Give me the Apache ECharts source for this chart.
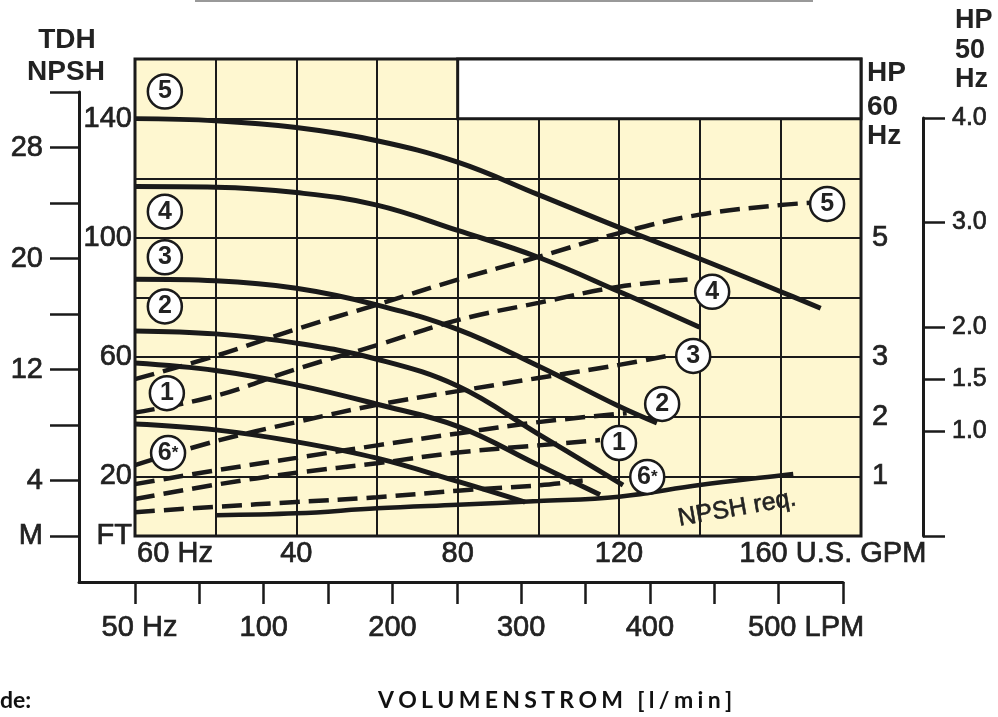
<!DOCTYPE html>
<html>
<head>
<meta charset="utf-8">
<script src="https://cdn.jsdelivr.net/npm/echarts@6/dist/echarts.min.js"></script>
<style>
  html, body { margin: 0; padding: 0; background: #fff; }
  #main { width: 998px; height: 717px; }
</style>
</head>
<body>
<div id="main"></div>
<script>
// flow in U.S. GPM, head in FT (TDH / NPSH)
var head5Flow = [0, 20, 40, 60, 80, 100, 120, 140, 160, 170];
var head5Ft   = [140, 139.3, 137, 132.6, 125.4, 114.5, 103.5, 93, 82, 76.4];
var head4Flow = [0, 20, 40, 60, 80, 100, 120, 140];
var head4Ft   = [117.2, 117, 115.2, 111, 102.5, 93.5, 82, 70];
var head3Flow = [0, 20, 40, 60, 80, 100, 120, 129.4];
var head3Ft   = [86.1, 85.6, 83.1, 77.5, 69.3, 57, 43.5, 37.9];
var head2Flow = [0, 20, 40, 60, 80, 100, 121];
var head2Ft   = [68.8, 67.8, 64.7, 59.3, 50.3, 34.2, 17.1];
var head1Flow = [0, 20, 40, 60, 80, 100, 115.3];
var head1Ft   = [58, 55.5, 50.7, 44.2, 36.8, 23.8, 13.8];
var head6Flow = [0, 20, 40, 60, 80, 96.7];
var head6Ft   = [37.6, 35.6, 31.6, 26.1, 18.3, 11.4];
var npshFlow  = [20, 40, 60, 80, 100, 120, 140, 160, 163.2];
var npshFt    = [7, 7.6, 9.3, 10.5, 11.7, 13.2, 17.1, 20.3, 20.8];

// power curves, HP at 60 Hz
var pow5Flow = [0, 20, 40, 60, 80, 100, 120, 140, 160, 168];
var pow5Hp   = [2.63, 3.02, 3.47, 3.88, 4.30, 4.68, 5.08, 5.39, 5.55, 5.59];
var pow4Flow = [0, 20, 40, 60, 80, 100, 120, 137];
var pow4Hp   = [2.07, 2.35, 2.80, 3.20, 3.62, 3.91, 4.18, 4.30];
var pow3Flow = [0, 20, 40, 60, 80, 100, 120, 133.4];
var pow3Hp   = [1.19, 1.59, 1.91, 2.20, 2.43, 2.65, 2.87, 3.04];
var pow2Flow = [0, 20, 40, 60, 80, 100, 121.9];
var pow2Hp   = [0.87, 1.10, 1.31, 1.52, 1.72, 1.91, 2.06];
var pow1Flow = [0, 20, 40, 60, 80, 100, 115.3];
var pow1Hp   = [0.62, 0.86, 1.06, 1.22, 1.40, 1.52, 1.61];
var pow6Flow = [0, 20, 40, 60, 80, 100, 111];
var pow6Hp   = [0.40, 0.49, 0.57, 0.65, 0.76, 0.85, 0.93];

// curve number tags (GPM, FT)
var tagFlow = [7.4, 7.4, 7.4, 7.4, 7.9, 8.2, 171.6, 143.1, 138.4, 130.7, 120, 127];
var tagFt   = [149.1, 108.8, 93.5, 77, 47.9, 27.8, 111.4, 81.9, 60.4, 44.3, 31.2, 19.8];
var tagText = ['5', '4', '3', '2', '1', '6*', '5', '4', '3', '2', '1', '6*'];

// tick labels
var gpmTicks  = [0, 40, 80, 120, 160];
var ftTicks   = [0, 20, 60, 100, 140];
var hp60Ticks = [1, 2, 3, 5];
var hp50Ticks = [1, 1.5, 2, 3, 4];
var meterTicks = [0, 4, 12, 20, 28];
var lpmTicks  = [0, 100, 200, 300, 400, 500];

var INK = '#1a1a1a';
var CREAM = '#fef7d0';
var FONT = '"Liberation Sans", Arial, Helvetica, sans-serif';

var myChart = echarts.init(document.getElementById('main'));

function pairs(xs, ys) {
    var res = [];
    for (var i = 0; i < xs.length; i++) res.push([xs[i], ys[i]]);
    return res;
}
function range(a, b, step) {
    var r = [];
    for (var v = a; v <= b + 1e-9; v += step) r.push(v);
    return r;
}
function headLine(name, xs, ys) {
    return {
        name: name, type: 'line', xAxisIndex: 0, yAxisIndex: 0,
        data: pairs(xs, ys), symbol: 'none', smooth: 0.4,
        lineStyle: { color: INK, width: 5 }, z: 3
    };
}
function powerLine(name, xs, ys) {
    return {
        name: name, type: 'line', xAxisIndex: 0, yAxisIndex: 1,
        data: pairs(xs, ys), symbol: 'none', smooth: 0.4,
        lineStyle: { color: INK, width: 4.5, type: [20, 9] }, z: 3
    };
}

var tags = [];
for (var i = 0; i < tagText.length; i++) {
    tags.push([tagFlow[i], tagFt[i], tagText[i]]);
}

// slightly heavier text, like the printed sheet
var heavy = { textBorderColor: '#222', textBorderWidth: 0.7 };
var labelBase = { fontFamily: FONT, fontSize: 29, color: '#222', textBorderColor: '#222', textBorderWidth: 0.7 };

var series = [
    headLine('TDH 5', head5Flow, head5Ft),
    headLine('TDH 4', head4Flow, head4Ft),
    headLine('TDH 3', head3Flow, head3Ft),
    headLine('TDH 2', head2Flow, head2Ft),
    headLine('TDH 1', head1Flow, head1Ft),
    headLine('TDH 6*', head6Flow, head6Ft),
    powerLine('HP 5', pow5Flow, pow5Hp),
    powerLine('HP 4', pow4Flow, pow4Hp),
    powerLine('HP 3', pow3Flow, pow3Hp),
    powerLine('HP 2', pow2Flow, pow2Hp),
    powerLine('HP 1', pow1Flow, pow1Hp),
    powerLine('HP 6*', pow6Flow, pow6Hp)
];
var npsh = headLine('NPSH req.', npshFlow, npshFt);
npsh.lineStyle.width = 4.5;
npsh.markPoint = {
    symbol: 'circle', symbolSize: 0,
    data: [{ coord: [149.3, 9.2] }],
    label: {
        show: true, position: 'inside', formatter: 'NPSH req.', rotate: 10,
        fontFamily: FONT, fontSize: 25, color: '#222', textBorderColor: '#222', textBorderWidth: 0.6
    }
};
series.push(npsh);
// white upper-right box
series[0].markArea = {
    silent: true,
    itemStyle: { color: '#fff', borderColor: INK, borderWidth: 3 },
    data: [[{ coord: [80, 140] }, { coord: [180, 160] }]]
};
series.push({
    name: 'tags', type: 'scatter', xAxisIndex: 0, yAxisIndex: 0, z: 6,
    data: tags, symbol: 'circle', symbolSize: 34,
    itemStyle: { color: '#fff', borderColor: INK, borderWidth: 2.5, opacity: 1 },
    label: {
        show: true, position: 'inside',
        fontFamily: FONT, fontSize: 25, fontWeight: 'bold', color: '#222',
        formatter: function (p) {
            return p.value[2] === '6*' ? '6{s|*}' : p.value[2];
        },
        rich: { s: { fontFamily: FONT, fontSize: 17, fontWeight: 'bold', color: '#222' } }
    }
});

var spaced = 'VOLUMENSTROM [l/min]'.split('').join('\u2009\u200A');
var HEAD = 'bold 28px "Liberation Sans", Arial, sans-serif';
var HEAD50 = 'bold 27px "Liberation Sans", Arial, sans-serif';

option = {
    animation: false,
    backgroundColor: '#fff',
    textStyle: { fontFamily: FONT },
    grid: [
        { left: 135, right: 137, top: 59, bottom: 181, show: true, backgroundColor: CREAM,
          borderColor: INK, borderWidth: 3, containLabel: false, outerBoundsMode: 'none' },
        { left: 79, right: 155, top: 92, bottom: 135, containLabel: false, outerBoundsMode: 'none' },
        { left: 922, width: 1, top: 118, bottom: 181, containLabel: false, outerBoundsMode: 'none' }
    ],
    xAxis: [
        {
            gridIndex: 0, type: 'value', min: 0, max: 180, interval: 20,
            axisLine: { show: false, onZero: false }, axisTick: { show: false },
            splitLine: { show: true, lineStyle: { color: INK, width: 2 } },
            axisLabel: {
                customValues: gpmTicks, margin: 3, fontFamily: FONT, fontSize: 29, color: '#222',
                formatter: function (v) {
                    if (v === 0) return '{p| }{n|60 Hz}';
                    if (v === 160) return '{p2| }{n|160}{n| U.S. GPM}';
                    return '{n|' + v + '}';
                },
                rich: {
                    n: labelBase,
                    p: { width: 80, fontSize: 29 },
                    p2: { width: 105, fontSize: 29 }
                }
            }
        },
        {
            gridIndex: 1, type: 'value', min: -43.5, max: 550,
            axisLine: { show: true, onZero: false, lineStyle: { color: INK, width: 3 } },
            axisTick: { show: true, customValues: range(0, 550, 50), length: 22, lineStyle: { color: INK, width: 2.5 } },
            splitLine: { show: false },
            axisLabel: {
                customValues: lpmTicks, margin: 31, fontFamily: FONT, fontSize: 29, color: '#222',
                formatter: function (v) {
                    if (v === 0) return '{p| }{n|50 Hz}';
                    if (v === 500) return '{p2| }{n|500}{n| LPM}';
                    return '{n|' + v + '}';
                },
                rich: {
                    n: labelBase,
                    p: { width: 9, fontSize: 29 },
                    p2: { width: 55, fontSize: 29 }
                }
            }
        },
        { gridIndex: 2, type: 'value', show: false, min: 0, max: 1 }
    ],
    yAxis: [
        {
            gridIndex: 0, type: 'value', min: 0, max: 160, interval: 20,
            axisLine: { show: false, onZero: false }, axisTick: { show: false },
            splitLine: { show: true, lineStyle: { color: INK, width: 2 } },
            axisLabel: Object.assign({
                customValues: ftTicks, margin: 3, fontFamily: FONT, fontSize: 29, color: '#222',
                formatter: function (v) { return v === 0 ? 'FT' : String(v); }
            }, heavy)
        },
        {
            gridIndex: 0, type: 'value', position: 'right', min: 0, max: 8, interval: 1,
            axisLine: { show: false, onZero: false }, axisTick: { show: false },
            splitLine: { show: false },
            axisLabel: Object.assign({
                customValues: hp60Ticks, margin: 11, fontFamily: FONT, fontSize: 29, color: '#222'
            }, heavy)
        },
        {
            gridIndex: 1, type: 'value', position: 'left', min: -3.315, max: 32,
            axisLine: { show: true, onZero: false, lineStyle: { color: INK, width: 3 } },
            axisTick: { show: true, customValues: range(0, 32, 4), length: 29, lineStyle: { color: INK, width: 2.5 } },
            splitLine: { show: false },
            axisLabel: Object.assign({
                customValues: meterTicks, margin: 36, fontFamily: FONT, fontSize: 29, color: '#222',
                formatter: function (v) { return v === 0 ? 'M' : String(v); }
            }, heavy)
        },
        {
            gridIndex: 2, type: 'value', position: 'right', min: 0, max: 4,
            axisLine: { show: true, onZero: false, lineStyle: { color: INK, width: 3 } },
            axisTick: { show: true, customValues: [0].concat(hp50Ticks), length: 22, lineStyle: { color: INK, width: 2.5 } },
            splitLine: { show: false },
            axisLabel: Object.assign({
                customValues: hp50Ticks, margin: 29, fontFamily: FONT, fontSize: 25, color: '#222',
                formatter: function (v) { return v.toFixed(1); }
            }, heavy)
        }
    ],
    graphic: [
        { type: 'line', shape: { x1: 195, y1: 1, x2: 813, y2: 1 }, style: { stroke: '#999', lineWidth: 2 } },
        { type: 'text', x: 67, y: 40, style: { text: 'TDH', font: HEAD, fill: '#222', textAlign: 'center', textVerticalAlign: 'middle' } },
        { type: 'text', x: 66, y: 72, style: { text: 'NPSH', font: HEAD, fill: '#222', textAlign: 'center', textVerticalAlign: 'middle' } },
        { type: 'text', x: 867, y: 73, style: { text: 'HP', font: HEAD, fill: '#222', textAlign: 'left', textVerticalAlign: 'middle' } },
        { type: 'text', x: 867, y: 107, style: { text: '60', font: HEAD, fill: '#222', textAlign: 'left', textVerticalAlign: 'middle' } },
        { type: 'text', x: 867, y: 136, style: { text: 'Hz', font: HEAD, fill: '#222', textAlign: 'left', textVerticalAlign: 'middle' } },
        { type: 'text', x: 955, y: 21, style: { text: 'HP', font: HEAD50, fill: '#222', textAlign: 'left', textVerticalAlign: 'middle' } },
        { type: 'text', x: 955, y: 51, style: { text: '50', font: HEAD50, fill: '#222', textAlign: 'left', textVerticalAlign: 'middle' } },
        { type: 'text', x: 955, y: 80, style: { text: 'Hz', font: HEAD50, fill: '#222', textAlign: 'left', textVerticalAlign: 'middle' } },
        { type: 'text', x: 555, y: 701, style: { text: spaced, font: 'bold 23px Lato, sans-serif', fill: '#111', textAlign: 'center', textVerticalAlign: 'middle' } },
        { type: 'text', x: 0, y: 701, style: { text: 'de:', font: 'bold 23px Lato, sans-serif', fill: '#111', textAlign: 'left', textVerticalAlign: 'middle' } }
    ],
    series: series
};
myChart.setOption(option);
</script>
</body>
</html>
